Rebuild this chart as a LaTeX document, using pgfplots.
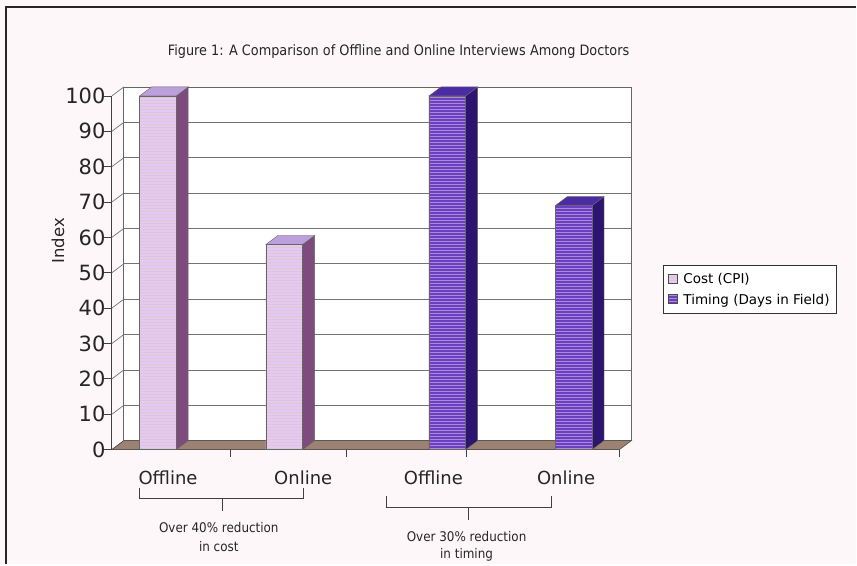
\documentclass[border=0pt]{standalone}
\usepackage{fontspec}
\setmainfont{DejaVu Sans}
\newfontfamily\cond{DejaVu Sans Condensed}
\usepackage{pgfplots}
\pgfplotsset{compat=1.18}
\usetikzlibrary{patterns}
\definecolor{bg}{HTML}{FDF7FA}
\definecolor{costF}{HTML}{E6C8F2}
\definecolor{costS}{HTML}{7E4C7C}
\definecolor{costT}{HTML}{BCA0DC}
\definecolor{timF}{HTML}{6E3EC2}
\definecolor{timS}{HTML}{2C1470}
\definecolor{timT}{HTML}{4C2CA4}
\definecolor{floorc}{HTML}{9C8272}
\begin{document}
\begin{tikzpicture}[x=1pt,y=1pt]
\fill[bg] (0,0) rectangle (857,565);
\draw[line width=1.6pt, black!85] (6,0) -- (6,558) -- (857,558);

% back wall
\begin{axis}[at={(124pt,124pt)}, anchor=south west, scale only axis,
  width=508pt, height=354pt, xmin=0, xmax=1, ymin=0, ymax=100,
  ytick={0,10,...,100}, xtick=\empty, yticklabels={}, major tick length=0pt,
  ymajorgrids, grid style={black!55, line width=0.7pt},
  axis line style={black!60, line width=0.8pt},
  axis background/.style={fill=white}]
\addplot[draw=none] coordinates {(0,0)};
\end{axis}

% front
\begin{axis}[at={(112pt,115pt)}, anchor=south west, scale only axis,
  width=508pt, height=354pt, xmin=-0.364, xmax=3.652, ymin=0, ymax=100,
  clip=false,
  axis y line*=left, axis x line*=bottom,
  axis line style={black!75, line width=0.8pt},
  ytick={0,10,...,100}, tick align=outside, major tick length=8pt,
  ytick style={black!75, line width=0.8pt},
  xtick={0.08,1.15,2.18,3.23}, xticklabels={Offline,Online,Offline,Online},
  xtick style={draw=none},
  /pgf/number format/assume math mode=true,
  yticklabel style={font=\fontsize{21}{23}\selectfont, text=black!85, xshift=5pt},
  xticklabel style={font=\fontsize{18}{20}\selectfont, text=black!85, yshift=-10pt},
  ylabel={Index}, ylabel style={at={(axis description cs:-0.106,0.59)}, anchor=center, font=\fontsize{16.5}{18}\selectfont, text=black!85},
  legend style={at={(axis description cs:1.085,0.5226)}, anchor=north west,
    draw=black!80, line width=0.8pt, fill=white,
    font=\fontsize{13.5}{16}\selectfont, row sep=5pt, inner xsep=5pt, inner ysep=6pt,
    cells={anchor=west},
    /tikz/every odd column/.append style={column sep=4pt}},
  legend image code/.code={\draw[#1, draw=black!70, line width=0.5pt] (0pt,-4pt) rectangle (9pt,5pt);},
]
% left side wall diagonals
\pgfplotsinvokeforeach{0,10,...,100}{
  \draw[black!55, line width=0.7pt] (axis cs:-0.364,#1) -- (axis cs:-0.269,#1+2.54);
}
% floor
\addplot[fill=floorc, draw=black!70, line width=0.6pt, forget plot]
  coordinates {(-0.364,0) (3.652,0) (3.747,2.54) (-0.269,2.54)} -- cycle;
% floor ticks
\pgfplotsinvokeforeach{0.57,1.49,2.44,3.652}{
  \draw[black!75, line width=0.8pt] (axis cs:#1,0) -- ++(0pt,-7pt);
}
% cost bars: sides and tops
\addplot[fill=costS, draw=black!60, line width=0.4pt, forget plot]
  coordinates {(0.145,0) (0.24,2.54) (0.24,102.54) (0.145,100)} -- cycle;
\addplot[fill=costT, draw=black!60, line width=0.4pt, forget plot]
  coordinates {(-0.145,100) (0.145,100) (0.24,102.54) (-0.05,102.54)} -- cycle;
\addplot[fill=costS, draw=black!60, line width=0.4pt, forget plot]
  coordinates {(1.145,0) (1.24,2.54) (1.24,60.54) (1.145,58)} -- cycle;
\addplot[fill=costT, draw=black!60, line width=0.4pt, forget plot]
  coordinates {(0.855,58) (1.145,58) (1.24,60.54) (0.95,60.54)} -- cycle;
% timing bars: sides and tops
\addplot[fill=timS, draw=black!60, line width=0.4pt, forget plot]
  coordinates {(2.435,0) (2.53,2.54) (2.53,102.54) (2.435,100)} -- cycle;
\addplot[fill=timT, draw=black!60, line width=0.4pt, forget plot]
  coordinates {(2.145,100) (2.435,100) (2.53,102.54) (2.24,102.54)} -- cycle;
\addplot[fill=timS, draw=black!60, line width=0.4pt, forget plot]
  coordinates {(3.435,0) (3.53,2.54) (3.53,71.54) (3.435,69)} -- cycle;
\addplot[fill=timT, draw=black!60, line width=0.4pt, forget plot]
  coordinates {(3.145,69) (3.435,69) (3.53,71.54) (3.24,71.54)} -- cycle;
% front faces
\addplot[ybar, bar width=0.29, bar shift=0pt, fill=costF, draw=black!60, line width=0.4pt,
  postaction={pattern=horizontal lines, pattern color=costS!30}]
  coordinates {(0,100) (1,58)};
\addlegendentry{Cost (CPI)}
\addplot[ybar, bar width=0.29, bar shift=0pt, fill=timF, draw=black!60, line width=0.4pt,
  postaction={pattern=horizontal lines, pattern color=timF!60!white}]
  coordinates {(2.29,100) (3.29,69)};
\addlegendentry{Timing (Days in Field)}
\end{axis}

% title
\node[font=\cond\fontsize{14.3}{16}\selectfont, text=black!85] at (399,513) {Figure 1: A Comparison of Offline and Online Interviews Among Doctors};

% brackets
\draw[black!75, line width=0.8pt] (140,77) -- (140,66) -- (304,66) -- (304,77);
\draw[black!75, line width=0.8pt] (223,66) -- (223,54);
\draw[black!75, line width=0.8pt] (387,69) -- (387,57) -- (552,57) -- (552,69);
\draw[black!75, line width=0.8pt] (469,57) -- (469,45);
\node[font=\cond\fontsize{13.3}{15}\selectfont, text=black!85] at (219,37) {Over 40\% reduction};
\node[font=\cond\fontsize{13.3}{15}\selectfont, text=black!85] at (219,18) {in cost};
\node[font=\cond\fontsize{13.3}{15}\selectfont, text=black!85] at (467,28) {Over 30\% reduction};
\node[font=\cond\fontsize{13.3}{15}\selectfont, text=black!85] at (467,10) {in timing};
\end{tikzpicture}
\end{document}
